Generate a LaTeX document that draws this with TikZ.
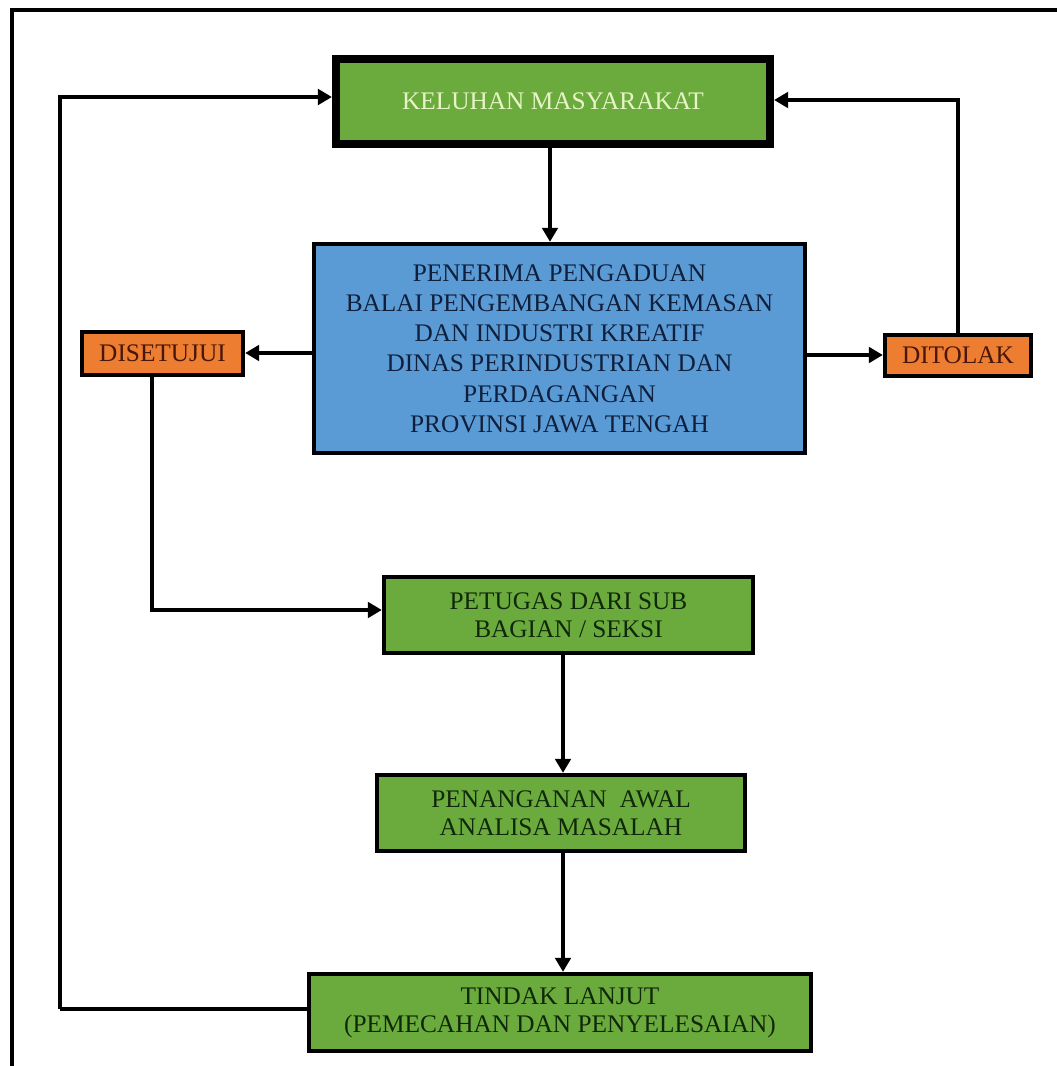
\documentclass[tikz,border=0pt]{standalone}
\usepackage{fontspec}
\setmainfont{Liberation Serif}
\usetikzlibrary{arrows.meta}
\definecolor{hijau}{HTML}{6BAA3C}
\definecolor{biru}{HTML}{5B9BD5}
\definecolor{oranye}{HTML}{ED7D31}
\definecolor{teksbiru}{HTML}{0F1F3C}
\definecolor{tekshijau}{HTML}{10280A}
\definecolor{tekscoklat}{HTML}{4A1608}
\definecolor{tekspucat}{HTML}{E6F4C6}

\begin{document}
\begin{tikzpicture}[x=0.025cm,y=-0.025cm,
    kotak/.style={draw=black,line width=3pt,inner sep=0pt,align=center,
        font=\fontsize{18}{20}\selectfont},
    hijaubox/.style={kotak,fill=hijau,text=tekshijau},
    birubox/.style={kotak,fill=biru,text=teksbiru,font=\fontsize{18}{21.5}\selectfont},
    oranyebox/.style={kotak,fill=oranye,text=tekscoklat},
    garis/.style={line width=3pt},
    panah/.style={garis,-{Triangle[length=10pt,width=11pt]}}]
    \useasboundingbox (0,0) rectangle (1057,1066);
    % bingkai luar
    \draw[line width=3pt] (12,1100) -- (12,10) -- (1100,10);
    % kotak-kotak
    \node[hijaubox,line width=5.7pt,text=tekspucat,minimum width=10.85cm,minimum height=2.125cm]
        (kel) at (553,101.5) {KELUHAN MASYARAKAT};
    \node[birubox,minimum width=12.275cm,minimum height=5.225cm] (pen) at (559.5,348.5)
        {PENERIMA PENGADUAN\\BALAI PENGEMBANGAN KEMASAN\\DAN INDUSTRI KREATIF\\
         DINAS PERINDUSTRIAN DAN\\PERDAGANGAN\\PROVINSI JAWA TENGAH};
    \node[oranyebox,minimum width=4.025cm,minimum height=1.075cm] (setuju) at (162.5,353.5) {DISETUJUI};
    \node[oranyebox,minimum width=3.65cm,minimum height=1.025cm] (tolak) at (958,355.5) {DITOLAK};
    \node[hijaubox,minimum width=9.225cm,minimum height=1.9cm] (petugas) at (568.5,615)
        {PETUGAS DARI SUB\\BAGIAN / SEKSI};
    \node[hijaubox,minimum width=9.2cm,minimum height=1.9cm] (awal) at (561,813)
        {PENANGANAN\ \ AWAL\\ANALISA MASALAH};
    \node[hijaubox,minimum width=12.55cm,minimum height=1.925cm] (tindak) at (560,1012.5)
        {TINDAK LANJUT\\(PEMECAHAN DAN PENYELESAIAN)};
    % titik bantu
    \coordinate (a) at (550,148);
    \coordinate (b) at (152,377);
    \coordinate (c) at (563,655);
    \coordinate (d) at (60,1009);
    % penghubung
    \draw[panah] (a) -- (a |- pen.north);
    \draw[panah] (pen.west |- 0,353) -- (setuju.east |- 0,353);
    \draw[panah] (pen.east |- 0,355) -- (tolak.west |- 0,355);
    \draw[panah] (tolak.north) |- (kel.east |- 0,100);
    \draw[panah] (b) |- (petugas.west |- 0,610);
    \draw[panah] (c) -- (c |- awal.north);
    \draw[panah] (c |- awal.south) -- (c |- tindak.north);
    \draw[garis] (tindak.west |- d) -- (d);
    \draw[panah] (d) |- (kel.west |- 0,97);
\end{tikzpicture}
\end{document}
